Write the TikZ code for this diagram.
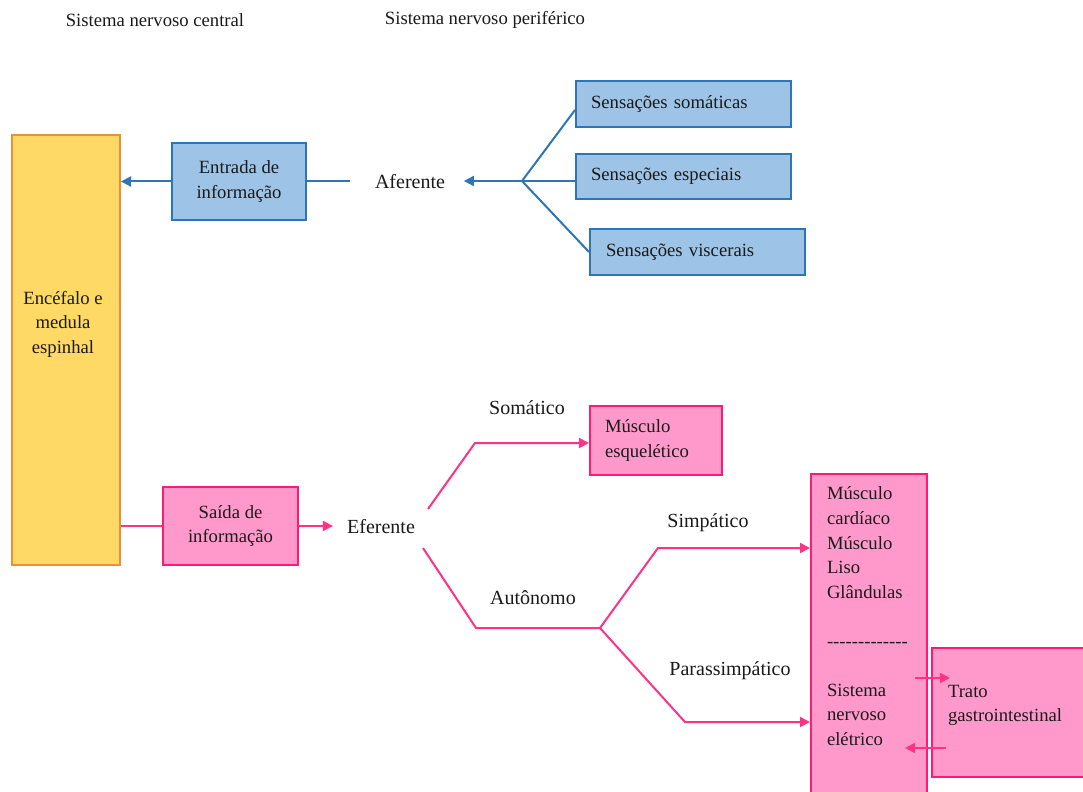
\documentclass[tikz,border=0pt]{standalone}
\usepackage{fontspec}
\setmainfont{Liberation Serif}
\usetikzlibrary{arrows.meta,calc}
\definecolor{yfill}{HTML}{FFD966}
\definecolor{ydraw}{HTML}{E8913A}
\definecolor{bfill}{HTML}{9DC3E6}
\definecolor{bdraw}{HTML}{2E75B6}
\definecolor{pfill}{HTML}{FF99CC}
\definecolor{pdraw}{HTML}{FF1A75}
\definecolor{pline}{HTML}{FF3385}
\definecolor{txt}{HTML}{1A1A1A}
\tikzset{
  lbl/.style={inner sep=0pt, text=txt, font=\fontsize{15}{18}\selectfont},
  hdr/.style={inner sep=0pt, text=txt, font=\fontsize{14}{17}\selectfont},
  box/.style={rectangle, line width=1.5pt, text=txt, font=\fontsize{14}{18.4}\selectfont, inner sep=0pt},
  ybox/.style={box, fill=yfill, draw=ydraw},
  bbox/.style={box, fill=bfill, draw=bdraw},
  pbox/.style={box, fill=pfill, draw=pdraw},
  bline/.style={draw=bdraw, line width=1.5pt},
  barrow/.style={bline, -{Triangle[length=7.5pt,width=7.5pt]}},
  pline/.style={draw=pline, line width=1.5pt},
  parrow/.style={pline, -{Triangle[length=7.5pt,width=7.5pt]}},
}
\begin{document}
\begin{tikzpicture}[x=0.75pt, y=-0.75pt]
\clip (0,0) rectangle (1083,792);
\fill[white] (0,0) rectangle (1083,792);

% headers
\node[hdr] (hcentral) at (155,20) {Sistema nervoso central};
\node[hdr] (hperif) at (485,20) {Sistema nervoso periférico};

% CNS box
\node[ybox, minimum width=108*0.75pt, minimum height=430*0.75pt] (cns) at (66,350) {};
\node[box, align=center] (cnstext) at (63,324) {Encéfalo e\\medula\\espinhal};

% afferent side
\node[bbox, align=center, minimum width=134*0.75pt, minimum height=77*0.75pt] (entrada) at (239,181.5) {Entrada de\\informação};
\node[lbl] (aferente) at (410,182) {Aferente};
\node[bbox, minimum width=215*0.75pt, minimum height=46*0.75pt, text width=185*0.75pt, align=left] (som) at (683.5,104) {Sensações somáticas};
\node[bbox, minimum width=215*0.75pt, minimum height=45*0.75pt, text width=185*0.75pt, align=left] (esp) at (683.5,176.5) {Sensações especiais};
\node[bbox, minimum width=215*0.75pt, minimum height=46*0.75pt, text width=183*0.75pt, align=left] (visc) at (697.5,252) {Sensações viscerais};

\coordinate (af) at (522,181);
\draw[barrow] (entrada.west) -- (entrada.west -| cns.east);
\draw[bline, shorten >=18.75pt] (entrada.east) -- (entrada.east -| aferente.west);
\draw[barrow, shorten >=14pt] (af) -- (af -| aferente.east);
\draw[bline] (af) -- ([yshift=-4.5pt]som.west);
\draw[bline] (af) -- (af -| esp.west);
\draw[bline] (af) -- (visc.west);

% efferent side
\node[pbox, align=center, minimum width=135*0.75pt, minimum height=78*0.75pt] (saida) at (230.5,526) {Saída de\\informação};
\node[lbl] (eferente) at (381,527) {Eferente};
\node[pbox, minimum width=132*0.75pt, minimum height=69*0.75pt, text width=102*0.75pt, align=left] (mesq) at (656,440.5) {Músculo\\esquelético};
\node[pbox, minimum width=116*0.75pt, minimum height=330*0.75pt] (tall) at (869,639) {};
\node[box, anchor=north west, align=left] (talltext) at (826,486) {Músculo\\cardíaco\\Músculo\\Liso\\Glândulas\\\mbox{}\\-\kern0pt-\kern0pt-\kern0pt-\kern0pt-\kern0pt-\kern0pt-\kern0pt-\kern0pt-\kern0pt-\kern0pt-\kern0pt-\kern0pt-\\\mbox{}\\Sistema\\nervoso\\elétrico};
\node[pbox, minimum width=165*0.75pt, minimum height=129*0.75pt] (trato) at (1014.5,712.5) {};
\node[box, anchor=north west, align=left] (tratotext) at (947,684) {Trato\\gastrointestinal};

\node[lbl] (somatico) at (527,408) {Somático};
\node[lbl] (autonomo) at (533,598) {Autônomo};
\node[lbl] (simpatico) at (708,523) {Simpático};
\node[lbl] (parass) at (730,671) {Parassimpático};

\draw[pline] (cns.east |- saida.west) -- (saida.west);
\draw[parrow, shorten >=10.5pt] (saida.east) -- (saida.east -| eferente.west);

\coordinate (e1) at (428,509);
\coordinate (e2) at (475,443);
\coordinate (e3) at (423,548);
\coordinate (e4) at (476,628);
\coordinate (aut) at (600,628);
\coordinate (s1) at (658,548);
\coordinate (p1) at (685,722);
\draw[parrow] (e1) -- (e2) -- (e2 -| mesq.west);
\draw[pline] (e3) -- (e4) -- (aut);
\draw[parrow] (aut) -- (s1) -- (s1 -| tall.west);
\draw[parrow] (aut) -- (p1) -- (p1 -| tall.west);

\coordinate (g1) at (915,678);
\coordinate (g2) at (950,678);
\coordinate (g3) at (946,748);
\coordinate (g4) at (905,748);
\draw[parrow] (g1) -- (g2);
\draw[parrow] (g3) -- (g4);
\end{tikzpicture}
\end{document}
